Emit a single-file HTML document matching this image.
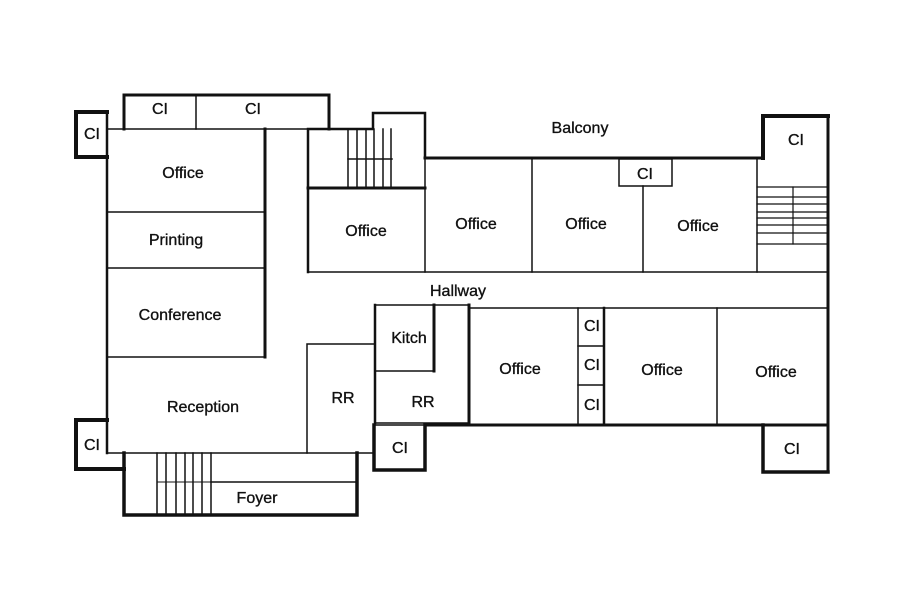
<!DOCTYPE html>
<html><head><style>
html,body{margin:0;padding:0;background:#fff;}
svg{display:block;}
text{font-family:"Liberation Sans",Arial,sans-serif;font-size:16px;fill:#111;text-anchor:middle;stroke:#111;stroke-width:0.35;}
</style></head><body>
<svg width="923" height="611" viewBox="0 0 923 611" xmlns="http://www.w3.org/2000/svg">
<g fill="none" stroke="#111" stroke-linecap="square">
<!-- top left CI -->
<path d="M107 112 H76 V157 H107" stroke-width="4"/>
<!-- top CI strip -->
<path d="M124 129 V95 H329 V129" stroke-width="3"/>
<line x1="196" y1="95" x2="196" y2="129" stroke-width="1.5"/>
<line x1="107" y1="129" x2="329" y2="129" stroke-width="1.5"/>
<!-- left outer wall -->
<line x1="107" y1="112" x2="107" y2="453" stroke-width="2.5"/>
<!-- left rooms -->
<line x1="265" y1="129" x2="265" y2="357" stroke-width="3"/>
<line x1="107" y1="212" x2="265" y2="212" stroke-width="1.5"/>
<line x1="107" y1="268" x2="265" y2="268" stroke-width="1.5"/>
<line x1="107" y1="357" x2="265" y2="357" stroke-width="1.5"/>
<!-- bottom left CI -->
<path d="M107 420 H76 V469 H124" stroke-width="4"/>
<!-- reception bottom -->
<line x1="107" y1="453" x2="373" y2="453" stroke-width="1.5"/>
<!-- foyer -->
<path d="M124 453 V515 H357 V453" stroke-width="3.5"/>
<line x1="211" y1="482" x2="357" y2="482" stroke-width="1.5"/>
<line x1="157" y1="453" x2="157" y2="515" stroke-width="1.5"/>
<line x1="211" y1="453" x2="211" y2="515" stroke-width="1.5"/>
<line x1="166" y1="453" x2="166" y2="515" stroke-width="1.5"/>
<line x1="176" y1="453" x2="176" y2="515" stroke-width="1.5"/>
<line x1="185" y1="453" x2="185" y2="515" stroke-width="1.5"/>
<line x1="193" y1="453" x2="193" y2="515" stroke-width="1.5"/>
<line x1="202" y1="453" x2="202" y2="515" stroke-width="1.5"/>
<line x1="157" y1="482" x2="211" y2="482" stroke-width="1"/>
<!-- RR left -->
<path d="M307 453 V344 H375" stroke-width="1.5"/>
<!-- stair block top -->
<path d="M308 272 V129 H373 V113 H425 V158" stroke-width="2.5"/>
<line x1="308" y1="188" x2="425" y2="188" stroke-width="3"/>
<line x1="425" y1="129" x2="425" y2="188" stroke-width="1.5"/>
<g stroke-width="1.5">
<line x1="348" y1="129" x2="348" y2="188"/><line x1="357" y1="129" x2="357" y2="188"/>
<line x1="366" y1="129" x2="366" y2="188"/><line x1="374" y1="129" x2="374" y2="188"/>
<line x1="383" y1="129" x2="383" y2="188"/><line x1="391" y1="129" x2="391" y2="188"/>
<line x1="348" y1="159" x2="392" y2="159"/>
</g>
<!-- top offices row -->
<line x1="425" y1="158" x2="763" y2="158" stroke-width="3"/>
<line x1="308" y1="272" x2="828" y2="272" stroke-width="1.5"/>
<line x1="425" y1="188" x2="425" y2="272" stroke-width="1.5"/>
<line x1="532" y1="158" x2="532" y2="272" stroke-width="1.5"/>
<line x1="643" y1="186" x2="643" y2="272" stroke-width="1.5"/>
<rect x="619" y="159" width="53" height="27" stroke-width="1.5"/>
<line x1="757" y1="158" x2="757" y2="272" stroke-width="1.5"/>
<!-- right CI top -->
<path d="M763 158 V116 H828" stroke-width="4"/>
<line x1="828" y1="116" x2="828" y2="472" stroke-width="3"/>
<!-- right stairs -->
<g stroke-width="1.2">
<line x1="757" y1="187" x2="828" y2="187"/><line x1="757" y1="197" x2="828" y2="197"/>
<line x1="757" y1="204" x2="828" y2="204"/><line x1="757" y1="212" x2="828" y2="212"/>
<line x1="757" y1="218" x2="828" y2="218"/><line x1="757" y1="225" x2="828" y2="225"/>
<line x1="757" y1="233" x2="828" y2="233"/><line x1="757" y1="244" x2="828" y2="244"/>
<line x1="793" y1="187" x2="793" y2="244"/>
</g>
<!-- hallway bottom / lower rooms -->
<line x1="469" y1="308" x2="828" y2="308" stroke-width="1.5"/>
<rect x="375" y="305" width="94" height="118" stroke-width="1.5"/>
<line x1="375" y1="305" x2="375" y2="423" stroke-width="2.5"/>
<line x1="469" y1="305" x2="469" y2="423" stroke-width="3"/>
<path d="M375 371 H434 V305" stroke-width="1.5"/>
<line x1="434" y1="305" x2="434" y2="371" stroke-width="3"/>
<line x1="578" y1="308" x2="578" y2="425" stroke-width="1.5"/>
<line x1="604" y1="308" x2="604" y2="425" stroke-width="2.5"/>
<line x1="578" y1="346" x2="604" y2="346" stroke-width="1.5"/>
<line x1="578" y1="385" x2="604" y2="385" stroke-width="1.5"/>
<line x1="717" y1="308" x2="717" y2="425" stroke-width="1.5"/>
<line x1="425" y1="425" x2="828" y2="425" stroke-width="3"/>
<!-- bottom CIs -->
<path d="M374 425 V470 H425 V425" stroke-width="3.5"/>
<line x1="374" y1="425" x2="425" y2="425" stroke-width="1.5"/>
<path d="M763 425 V472 H828" stroke-width="3.5"/>
</g>
<text x="160" y="114">CI</text>
<text x="253" y="114">CI</text>
<text x="92" y="139">CI</text>
<text x="183" y="178">Office</text>
<text x="176" y="245">Printing</text>
<text x="180" y="320">Conference</text>
<text x="203" y="412">Reception</text>
<text x="92" y="450">CI</text>
<text x="257" y="503">Foyer</text>
<text x="343" y="403">RR</text>
<text x="366" y="236">Office</text>
<text x="580" y="133">Balcony</text>
<text x="796" y="145">CI</text>
<text x="476" y="229">Office</text>
<text x="586" y="229">Office</text>
<text x="645" y="179">CI</text>
<text x="698" y="231">Office</text>
<text x="458" y="296">Hallway</text>
<text x="409" y="343">Kitch</text>
<text x="423" y="407">RR</text>
<text x="400" y="453">CI</text>
<text x="520" y="374">Office</text>
<text x="592" y="331">CI</text>
<text x="592" y="370">CI</text>
<text x="592" y="410">CI</text>
<text x="662" y="375">Office</text>
<text x="776" y="377">Office</text>
<text x="792" y="454">CI</text>
</svg>
</body></html>
